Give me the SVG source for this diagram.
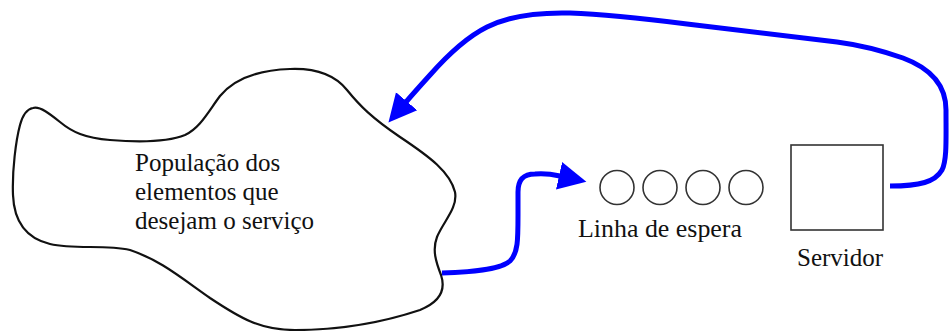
<svg xmlns="http://www.w3.org/2000/svg" width="949" height="331" viewBox="0 0 949 331">
  <style>
    .label { font-family: "Liberation Serif", "Times New Roman", serif; font-size: 25px; fill: #111; }
    .outline { fill: none; stroke: #111; stroke-width: 2.2; stroke-linejoin: round; }
    .slot { fill: #fff; stroke: #333; stroke-width: 1.6; }
    .flow { fill: none; stroke: #0000ff; stroke-width: 5; stroke-linecap: butt; stroke-linejoin: round; marker-end: url(#head); }
  </style>
  <defs>
    <marker id="head" markerUnits="userSpaceOnUse" markerWidth="30" markerHeight="30" viewBox="0 -15 30 30" refX="1" refY="0" orient="auto">
      <path d="M0,-14 L28,0 L0,14 Z" fill="#0000ff"/>
    </marker>
  </defs>

  <rect width="949" height="331" fill="#fff"/>

  <!-- population cloud -->
  <g id="population">
    <path class="outline" d="M33,108 C40,106 50,114 60,122 C72,132 85,138 110,140 C135,142 165,143 185,135 C200,128 208,112 220,96 C235,78 260,70 290,69 C315,68 335,75 347,90 C360,106 372,118 400,137 C430,157 450,172 455,192 C458,208 443,222 437,237 C432,250 436,262 441,275 C446,290 440,302 420,310 C390,320 345,330 295,330 C260,330 240,318 210,298 C180,277 160,260 130,250 C105,244 75,250 50,244 C25,238 14,220 13,195 C12,170 16,140 20,125 C23,114 27,109 33,108 Z"/>
    <text class="label" x="135" y="171">População dos</text>
    <text class="label" x="135" y="200">elementos que</text>
    <text class="label" x="135" y="229">desejam o serviço</text>
  </g>

  <!-- waiting line -->
  <g id="queue">
    <circle class="slot" cx="617" cy="187.5" r="17"/>
    <circle class="slot" cx="660" cy="187.5" r="17"/>
    <circle class="slot" cx="703" cy="187.5" r="17"/>
    <circle class="slot" cx="746" cy="187.5" r="17"/>
    <text class="label" x="578" y="237" textLength="164" lengthAdjust="spacingAndGlyphs">Linha de espera</text>
  </g>

  <!-- server -->
  <g id="server">
    <rect class="slot" x="791" y="145" width="92" height="85"/>
    <text class="label" x="797" y="266">Servidor</text>
  </g>

  <!-- flows -->
  <g id="connectors">
    <path class="flow" d="M442,273 C470,272 500,270 510,261 C518,253 518,240 518,215 L518,192 C518,180 523,174 535,174 C545,173 551,174 560,176"/>
    <path class="flow" d="M890,186 C920,186 935,182 942,170 C947,160 946,140 946,110 C946,85 930,68 903,58 C880,50 860,45 837,42 L687,24 C640,18 600,14 570,13 C530,12 505,18 487,27 C465,38 445,58 430,75 C420,86 412,95 406,102"/>
  </g>
</svg>
